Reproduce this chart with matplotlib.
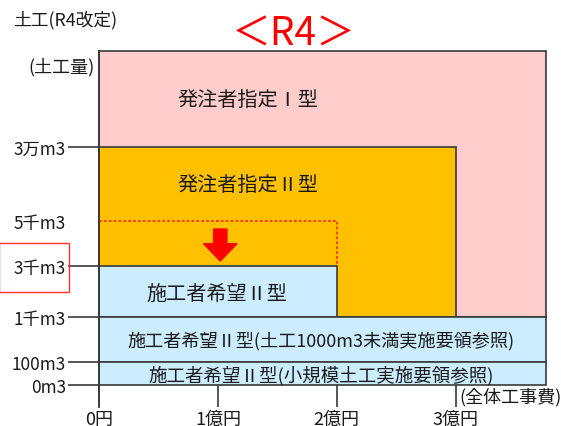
import numpy as np
import matplotlib.pyplot as plt

plt.rcParams['font.family'] = ['Noto Sans CJK JP', 'DejaVu Sans']

# 区分ごとの範囲 (全体工事費[億円], 土工量[m3])
types = ['発注者指定Ⅰ型', '発注者指定Ⅱ型', '施工者希望Ⅱ型',
         '施工者希望Ⅱ型(土工1000m3未満実施要領参照)',
         '施工者希望Ⅱ型(小規模土工実施要領参照)']
cost_upper = [3.76, 3.0, 2.0, 3.76, 3.76]
vol_lower = [1000, 1000, 1000, 100, 0]
vol_upper = [60000, 30000, 3000, 1000, 100]
colors = ['#FFCCCC', '#FFC000', '#CCECFF', '#CCECFF', '#CCECFF']

# 改定前の範囲 (施工者希望Ⅱ型 5千m3 -> 3千m3)
old_cost = [0, 2.0, 2.0]
old_vol = [5000, 5000, 3000]

vol_ticks = [0, 100, 1000, 3000, 5000, 30000]
vol_labels = ['0m3', '100m3', '1千m3', '3千m3', '5千m3', '3万m3']
cost_ticks = [0, 1, 2, 3]
cost_labels = ['0円', '1億円', '2億円', '3億円']

# schematic (non-linear) volume axis
scale_vol = [0, 100, 1000, 3000, 5000, 30000, 60000]
scale_pos = [0, 22.7, 67.7, 119.3, 164.3, 238, 334]


def fwd(v):
    return np.interp(v, scale_vol, scale_pos)


def inv(p):
    return np.interp(p, scale_pos, scale_vol)


W, H = 561, 427
fig = plt.figure(figsize=(W / 100, H / 100), dpi=100)
ax = fig.add_axes([99 / W, 41 / H, 447 / W, 334 / H])
ax.set_yscale('function', functions=(fwd, inv))
ax.set_xlim(0, 3.76)
ax.set_ylim(0, 60000)
for s in ax.spines.values():
    s.set_visible(False)

edge = '#3a3a3a'
txt = '#1a1a1a'
for i in range(len(types)):
    ax.bar(0, vol_upper[i] - vol_lower[i], width=cost_upper[i], bottom=vol_lower[i],
           align='edge', color=colors[i], edgecolor=edge, linewidth=1.2,
           clip_on=False, zorder=2)

ax.plot(old_cost, old_vol, color='#FF3300', linestyle=(0, (1.5, 1.2)),
        linewidth=1.3, zorder=3)

ax.annotate('', xy=(1.02, 3210), xytext=(1.02, 4630),
            arrowprops=dict(arrowstyle='simple,head_length=0.62,head_width=1.2,tail_width=0.48',
                            color='#FF0000', shrinkA=0, shrinkB=0, mutation_scale=20),
            zorder=4)

label_xy = [(1.25, 45000), (1.25, 17400), (0.99, 1900), (1.87, 546), (1.87, 44)]
label_size = [14.5, 14.5, 14.5, 13.1, 13.3]
for (lx, ly), t, fs in zip(label_xy, types, label_size):
    ax.text(lx, ly, t, ha='center', va='center', fontsize=fs, color=txt, zorder=5)

# axes line and ticks
ax.axvline(0, ymin=-22 / 334, ymax=1, color=edge, linewidth=1.3, clip_on=False, zorder=6)
ax.set_yticks(vol_ticks)
ax.set_yticklabels(vol_labels, fontsize=12.4, color=txt)
ax.set_xticks(cost_ticks)
ax.set_xticklabels(cost_labels, fontsize=13, color=txt)
ax.tick_params(axis='y', length=22.3, width=1.2, color=edge, pad=1.5)
ax.tick_params(axis='x', length=15.8, width=1.2, color=edge, pad=2)
ax.yaxis.get_major_ticks()[4].tick1line.set_visible(False)
ax.minorticks_off()

# texts outside plot
fig.text(13 / W, 1 - 20 / H, '土工(R4改定)', fontsize=12.8, ha='left', va='center', color=txt)
fig.text(95 / W, 1 - 67 / H, '(土工量)', fontsize=13, ha='right', va='center', color=txt)
fig.text(294 / W, 1 - 35 / H, '＜R4＞', fontsize=28, ha='center', va='center', color='#FF0000')
fig.text(459 / W, 1 - 397 / H, '(全体工事費)', fontsize=13, ha='left', va='center', color=txt)

# highlight of 3千m3 label
fig.add_artist(plt.Rectangle((-1 / W, 1 - 293 / H), 70 / W, 49 / H, transform=fig.transFigure,
                             fill=False, edgecolor='#FF3333', linewidth=1.0))

fig.savefig('out.png', dpi=100)
